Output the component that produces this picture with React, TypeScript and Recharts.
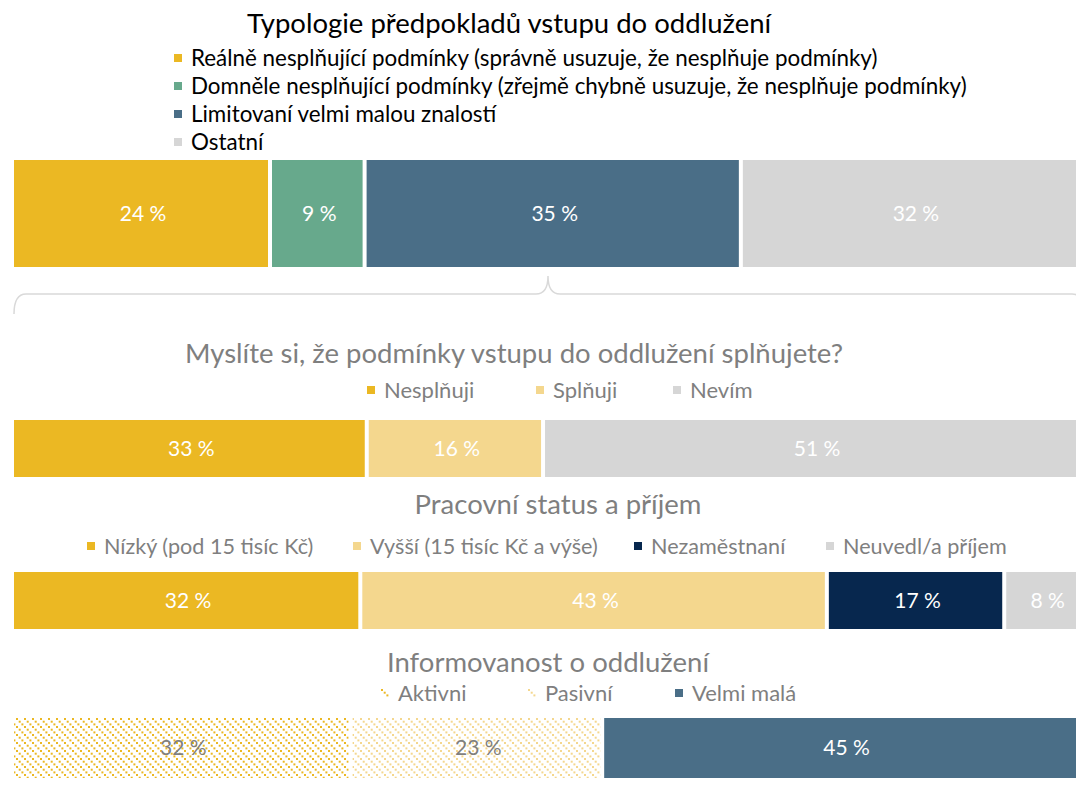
import React from 'react';
import { BarChart, Bar, XAxis, YAxis, LabelList } from 'recharts';

const FONT = "Lato, 'Open Sans', sans-serif";

// ---- Data ----
const typologyTitle = 'Typologie předpokladů vstupu do oddlužení';
const typologyCategories = [
  'Reálně nesplňující podmínky (správně usuzuje, že nesplňuje podmínky)',
  'Domněle nesplňující podmínky (zřejmě chybně usuzuje, že nesplňuje podmínky)',
  'Limitovaní velmi malou znalostí',
  'Ostatní',
];
const typologyValues = [24.0, 8.8, 35.0, 32.2];

const meetTitle = 'Myslíte si, že podmínky vstupu do oddlužení splňujete?';
const meetCategories = ['Nesplňuji', 'Splňuji', 'Nevím'];
const meetValues = [33.0, 16.4, 50.6];

const workTitle = 'Pracovní status a příjem';
const workCategories = ['Nízký (pod 15 tisíc Kč)', 'Vyšší (15 tisíc Kč a výše)', 'Nezaměstnaní', 'Neuvedl/a příjem'];
const workValues = [32.4, 43.4, 16.5, 7.7];

const infoTitle = 'Informovanost o oddlužení';
const infoCategories = ['Aktivni', 'Pasivní', 'Velmi malá'];
const infoValues = [31.5, 23.4, 45.1];

// ---- Styles ----
const YELLOW = '#EBB823';
const LIGHT_YELLOW = '#F4D78E';
const GREEN = '#67A98C';
const SLATE = '#4A6E87';
const GREY = '#D6D6D6';
const NAVY = '#07274E';
const TEXT_GREY = '#7F7F7F';

const typologyColors = [YELLOW, GREEN, SLATE, GREY];
const meetColors = [YELLOW, LIGHT_YELLOW, GREY];
const workColors = [YELLOW, LIGHT_YELLOW, NAVY, GREY];
const infoColors = ['url(#patAktivni)', 'url(#patPasivni)', SLATE];
const infoLabelColors = [TEXT_GREY, TEXT_GREY, '#FFFFFF'];

const CHART_W = 1090;
const PLOT_LEFT = 14;
const PLOT_RIGHT = 1;

const TITLE_SIZE = 27.5;
const LEGEND_SIZE = 22;
const LABEL_SIZE = 21;

const GapRect = (props: any) => {
  const { x, y, width, height, fill } = props;
  return <rect x={x} y={y} width={Math.max(0, width - 4)} height={height} fill={fill} />;
};

function PatternTile(props: { id: string; color: string }) {
  const { id, color } = props;
  return (
    <pattern id={id} width="8" height="8" patternUnits="userSpaceOnUse">
      <rect x="0" y="0" width="2" height="2" fill={color} />
      <rect x="2.7" y="2.7" width="2" height="2" fill={color} />
      <rect x="5.4" y="5.4" width="2" height="2" fill={color} />
    </pattern>
  );
}

function PatternDefs() {
  return (
    <defs>
      <PatternTile id="patAktivni" color={YELLOW} />
      <PatternTile id="patPasivni" color={LIGHT_YELLOW} />
    </defs>
  );
}

function StackRow(props: {
  categories: string[];
  values: number[];
  colors: string[];
  labelColors: string[];
  top: number;
  height: number;
  withDefs?: boolean;
}) {
  const { categories, values, colors, labelColors, top, height, withDefs } = props;
  const row: any = { name: 'row' };
  categories.forEach((_, i) => {
    row['s' + i] = values[i];
  });
  return (
    <div style={{ position: 'absolute', left: 0, top, width: CHART_W, height }}>
      <BarChart
        width={CHART_W}
        height={height}
        data={[row]}
        layout="vertical"
        margin={{ top: 0, right: PLOT_RIGHT, bottom: 0, left: PLOT_LEFT }}
        barCategoryGap={0}
      >
        {withDefs ? <PatternDefs /> : null}
        <XAxis type="number" domain={[0, 100]} allowDataOverflow hide />
        <YAxis type="category" dataKey="name" hide />
        {categories.map((c, i) => (
          <Bar
            key={c}
            dataKey={'s' + i}
            name={c}
            stackId="a"
            fill={colors[i]}
            isAnimationActive={false}
            shape={GapRect}
          >
            <LabelList
              dataKey={'s' + i}
              position="center"
              formatter={(v: any) => `${Math.round(Number(v))} %`}
              fill={labelColors[i]}
              style={{ fontSize: LABEL_SIZE, fontFamily: FONT }}
              offset={0}
            />
          </Bar>
        ))}
      </BarChart>
    </div>
  );
}

function Title(props: { text: string; cx: number; cy: number; color: string; size: number }) {
  const { text, cx, cy, color, size } = props;
  return (
    <div
      style={{
        position: 'absolute',
        left: cx - 450,
        width: 900,
        top: cy - size * 0.6,
        lineHeight: `${size * 1.2}px`,
        textAlign: 'center',
        fontSize: size,
        color,
        fontFamily: FONT,
        whiteSpace: 'nowrap',
      }}
    >
      {text}
    </div>
  );
}

function LegendItem(props: { text: string; color: string; x: number; cy: number; textColor: string; size?: number }) {
  const { text, color, x, cy, textColor, size } = props;
  return (
    <div style={{ position: 'absolute', left: x, top: cy - 14, height: 28, display: 'flex', alignItems: 'center', whiteSpace: 'nowrap' }}>
      <svg width={8} height={8} style={{ marginRight: 9, display: 'block' }}>
        <rect x={0} y={0} width={8} height={8} fill={color} />
      </svg>
      <span style={{ fontSize: size || LEGEND_SIZE, fontFamily: FONT, color: textColor, lineHeight: '28px' }}>{text}</span>
    </div>
  );
}

export default function App() {
  const white = ['#FFFFFF', '#FFFFFF', '#FFFFFF', '#FFFFFF'];
  const legend1Y = [58, 86, 114, 142];
  const legend2X = [367, 536, 673];
  const legend3X = [87, 353, 634, 826];
  const legend4X = [381, 528, 675];
  return (
    <div style={{ position: 'absolute', left: 0, top: 0, width: 1076, height: 793, overflow: 'hidden', background: '#fff' }}>
      <Title text={typologyTitle} cx={509} cy={22} color="#000000" size={TITLE_SIZE} />
      {typologyCategories.map((c, i) => (
        <LegendItem key={c} text={c} color={typologyColors[i]} x={174} cy={legend1Y[i]} textColor="#000000" size={22.4} />
      ))}
      <StackRow categories={typologyCategories} values={typologyValues} colors={typologyColors} labelColors={white} top={160} height={107} />

      <svg style={{ position: 'absolute', left: 0, top: 0 }} width={1076} height={330}>
        <path
          d="M14,314 Q14,294 26,294 L536,294 Q548,294 548,276 Q548,294 560,294 L1072,294 Q1084,294 1084,314"
          fill="none"
          stroke="#D9D9D9"
          strokeWidth={1.5}
        />
      </svg>

      <Title text={meetTitle} cx={514} cy={352} color={TEXT_GREY} size={TITLE_SIZE} />
      {meetCategories.map((c, i) => (
        <LegendItem key={c} text={c} color={meetColors[i]} x={legend2X[i]} cy={390} textColor={TEXT_GREY} />
      ))}
      <StackRow categories={meetCategories} values={meetValues} colors={meetColors} labelColors={white} top={420} height={57} />

      <Title text={workTitle} cx={558} cy={503} color={TEXT_GREY} size={TITLE_SIZE} />
      {workCategories.map((c, i) => (
        <LegendItem key={c} text={c} color={workColors[i]} x={legend3X[i]} cy={546} textColor={TEXT_GREY} size={21.6} />
      ))}
      <StackRow categories={workCategories} values={workValues} colors={workColors} labelColors={white} top={572} height={57} />

      <Title text={infoTitle} cx={548} cy={661} color={TEXT_GREY} size={TITLE_SIZE} />
      {infoCategories.map((c, i) => (
        <LegendItem key={c} text={c} color={infoColors[i]} x={legend4X[i]} cy={693} textColor={TEXT_GREY} />
      ))}
      <StackRow categories={infoCategories} values={infoValues} colors={infoColors} labelColors={infoLabelColors} top={718} height={60} withDefs />
    </div>
  );
}
